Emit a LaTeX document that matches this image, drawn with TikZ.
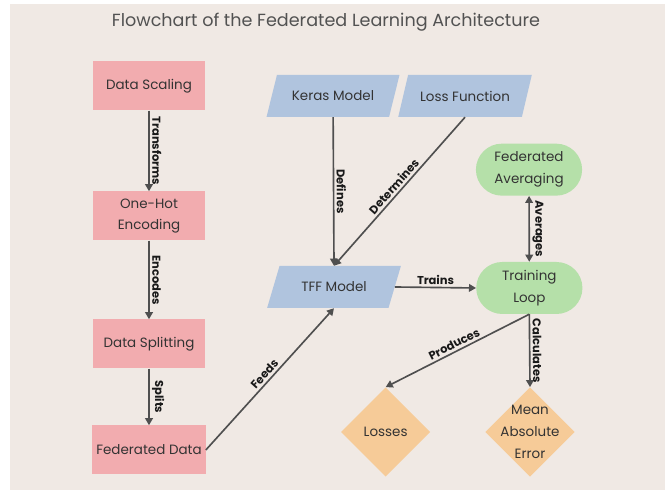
\documentclass[tikz,border=0pt]{standalone}
\usepackage{fontspec}
\setmainfont{Poppins}
\usetikzlibrary{shapes.geometric,shapes.misc,arrows.meta}
\definecolor{bgcol}{HTML}{F0E9E4}
\definecolor{pinkbox}{HTML}{F2ACAF}
\definecolor{bluebox}{HTML}{B0C4DE}
\definecolor{greenbox}{HTML}{B5E0A9}
\definecolor{orangebox}{HTML}{F6CB98}
\definecolor{txtcol}{HTML}{333333}
\definecolor{linecol}{HTML}{4F4F4F}
\tikzset{
  >={Triangle[length=6pt,width=6.5pt]},
  base/.style={text=txtcol, font=\fontsize{11.5}{18.5}\selectfont, align=center},
  prep/.style={base, rectangle, fill=pinkbox, minimum width=3.36cm, minimum height=1.47cm},
  model/.style={base, trapezium, trapezium left angle=65, trapezium right angle=115,
    trapezium stretches=true, fill=bluebox, minimum width=4.02cm, minimum height=1.26cm},
  loopbox/.style={base, rounded rectangle, fill=greenbox, minimum width=3.42cm, minimum height=1.56cm},
  result/.style={diamond, fill=orangebox, minimum width=2.68cm, minimum height=2.68cm, inner sep=0pt},
  flow/.style={draw=linecol, line width=1.4pt},
  lbl/.style={font=\bfseries\fontsize{9.8}{12}\selectfont, text=black!90, midway, sloped, above, inner sep=2pt}
}
\begin{document}
\begin{tikzpicture}
\useasboundingbox (0,0) rectangle (20.1,14.82);
\fill[bgcol] (0.3,0.12) rectangle (19.95,14.7);
\node (title) at (9.78, 14.16) [text=black!68, font=\fontsize{15}{18}\selectfont] {Flowchart of the Federated Learning Architecture};

% data preparation
\node (scaling) at (4.47, 12.24) [prep] {Data Scaling};
\node (onehot) at (4.47, 8.34) [prep] {One-Hot\\Encoding};
\node (split) at (4.47, 4.50) [prep] {Data Splitting};
\node (feddata) at (4.47, 1.32) [prep] {Federated Data};

% model
\node (keras) at (9.99, 11.94) [model] {Keras Model};
\node (lossfn) at (13.95, 11.94) [model] {Loss Function};
\node (tff) at (10.02, 6.21) [model] {TFF Model};

% training
\node (fedavg) at (15.87, 9.73) [loopbox] {Federated\\Averaging};
\node (train) at (15.88, 6.18) [loopbox] {Training\\Loop};
\node (losses) at (11.57, 1.86) [result, label={[base]center:Losses}] {};
\node (mae) at (15.90, 1.86) [result, label={[base]center:Mean\\Absolute\\Error}] {};

\draw[flow, ->] (scaling) -- node[lbl] {Transforms} (onehot);
\draw[flow, ->] (onehot) -- node[lbl] {Encodes} (split);
\draw[flow, ->] (split) -- node[lbl] {Splits} (feddata);
\draw[flow, ->] (feddata.east) -- node[lbl] {Feeds} (tff.south);
\draw[flow, ->] (keras) -- node[lbl] {Defines} (tff.north);
\draw[flow, ->] (lossfn.south) -- node[lbl] {Determines} (tff.north);
\draw[flow, ->] (tff.east) -- node[lbl] {Trains} (train.west);
\draw[flow, <->] (fedavg) -- node[lbl] {Averages} (train);
\draw[flow, ->] (train.south) -- node[lbl] {Produces} (losses.north);
\draw[flow, ->] (train.south) -- node[lbl] {Calculates} (mae.north);
\end{tikzpicture}
\end{document}
